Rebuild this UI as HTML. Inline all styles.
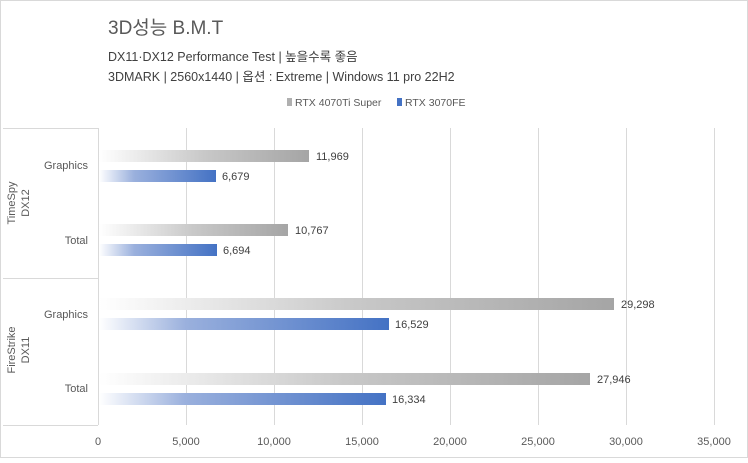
<!DOCTYPE html>
<html><head><meta charset="utf-8"><style>
body{margin:0;width:748px;height:458px;background:#fff;overflow:hidden;font-family:"Liberation Sans","Noto Sans CJK KR",sans-serif;}
</style></head><body>
<svg width="748" height="458" xmlns="http://www.w3.org/2000/svg" font-family="Liberation Sans, Noto Sans CJK KR, sans-serif">
<defs>
<linearGradient id="g" x1="0" x2="1"><stop offset="0" stop-color="#fff"/><stop offset="0.5" stop-color="#c8c8c8"/><stop offset="1" stop-color="#a5a5a5"/></linearGradient>
<linearGradient id="b" x1="0" x2="1"><stop offset="0" stop-color="#fff"/><stop offset="0.3" stop-color="#9ab0dd"/><stop offset="1" stop-color="#4472c4"/></linearGradient>
</defs>
<rect x="0.5" y="0.5" width="747" height="457" fill="#fff" stroke="#d9d9d9"/>
<text x="108" y="34" font-size="19" fill="#595959">3D성능 B.M.T</text>
<text x="108" y="61" font-size="12.5" fill="#404040">DX11·DX12 Performance Test | 높을수록 좋음</text>
<text x="108" y="81" font-size="12.5" fill="#404040">3DMARK | 2560x1440 | 옵션 : Extreme | Windows 11 pro 22H2</text>
<rect x="287" y="98" width="5" height="8" fill="#b0b0b0"/>
<text x="295" y="106" font-size="10.5" fill="#595959">RTX 4070Ti Super</text>
<rect x="397" y="98" width="5" height="8" fill="#4472c4"/>
<text x="405" y="106" font-size="10.5" fill="#595959">RTX 3070FE</text>
<g stroke="#d9d9d9" stroke-width="1">
<line x1="186.5" y1="128" x2="186.5" y2="425"/><line x1="274.5" y1="128" x2="274.5" y2="425"/><line x1="362.5" y1="128" x2="362.5" y2="425"/><line x1="450.5" y1="128" x2="450.5" y2="425"/><line x1="538.5" y1="128" x2="538.5" y2="425"/><line x1="626.5" y1="128" x2="626.5" y2="425"/><line x1="714.5" y1="128" x2="714.5" y2="425"/>
<line x1="98.5" y1="128" x2="98.5" y2="425"/>
<line x1="3" y1="128.5" x2="98" y2="128.5"/><line x1="3" y1="278.5" x2="98" y2="278.5"/><line x1="3" y1="425.5" x2="98" y2="425.5"/>
</g>
<rect x="99" y="150" width="210" height="12" fill="url(#g)"/>
<rect x="99" y="170" width="117" height="12" fill="url(#b)"/>
<rect x="99" y="224" width="189" height="12" fill="url(#g)"/>
<rect x="99" y="244" width="118" height="12" fill="url(#b)"/>
<rect x="99" y="298" width="515" height="12" fill="url(#g)"/>
<rect x="99" y="318" width="290" height="12" fill="url(#b)"/>
<rect x="99" y="373" width="491" height="12" fill="url(#g)"/>
<rect x="99" y="393" width="287" height="12" fill="url(#b)"/>
<g font-size="11" fill="#404040">
<text x="316" y="160">11,969</text><text x="222" y="180">6,679</text>
<text x="295" y="234">10,767</text><text x="223" y="254">6,694</text>
<text x="621" y="308">29,298</text><text x="395" y="328">16,529</text>
<text x="597" y="383">27,946</text><text x="392" y="403">16,334</text>
</g>
<g font-size="11" fill="#595959" text-anchor="end">
<text x="88" y="169">Graphics</text><text x="88" y="244">Total</text>
<text x="88" y="318">Graphics</text><text x="88" y="392">Total</text>
</g>
<g font-size="11" fill="#595959" text-anchor="middle">
<text transform="translate(15,203) rotate(-90)">TimeSpy</text>
<text transform="translate(29,203) rotate(-90)">DX12</text>
<text transform="translate(15,350) rotate(-90)">FireStrike</text>
<text transform="translate(29,350) rotate(-90)">DX11</text>
<text x="98" y="445">0</text><text x="186" y="445">5,000</text><text x="274" y="445">10,000</text><text x="362" y="445">15,000</text><text x="450" y="445">20,000</text><text x="538" y="445">25,000</text><text x="626" y="445">30,000</text><text x="714" y="445">35,000</text>
</g>
</svg>
</body></html>
